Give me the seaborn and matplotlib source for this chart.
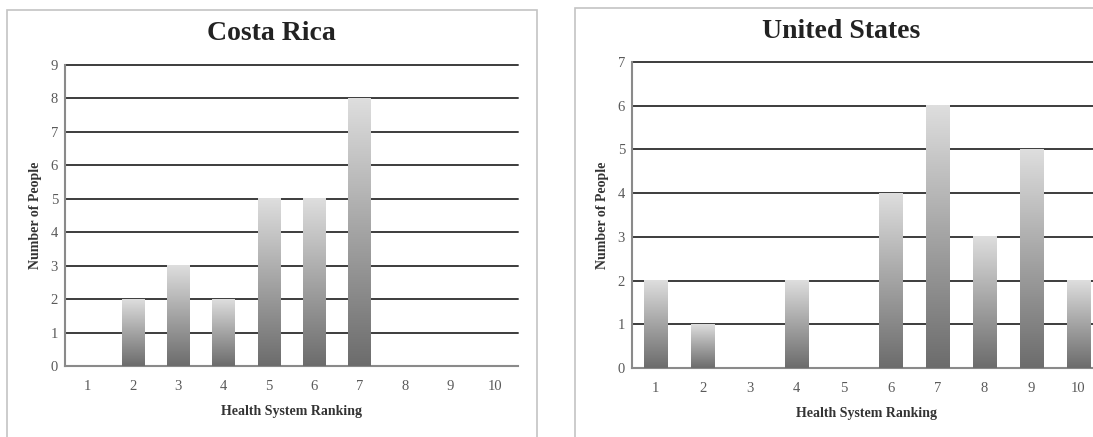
import numpy as np
import pandas as pd
import matplotlib.pyplot as plt
import seaborn as sns
from matplotlib.colors import LinearSegmentedColormap
from matplotlib.patches import Rectangle

# data
rankings = ["1", "2", "3", "4", "5", "6", "7", "8", "9", "10"]
costa_rica = [0, 2, 3, 2, 5, 5, 8, 0, 0, 0]
united_states = [2, 1, 0, 2, 0, 4, 6, 3, 5, 2]

sns.set_style("white")
plt.rcParams['font.family'] = ['Liberation Serif', 'DejaVu Serif']

fig = plt.figure(figsize=(10.93, 4.37), dpi=100)
W, H = 1093, 437

# panel borders
fig.patches.append(Rectangle((7 / W, -0.05), 530 / W, 1 - 10 / H + 0.05,
                             transform=fig.transFigure, fill=False,
                             edgecolor="#c4c4c4", lw=1.2))
fig.patches.append(Rectangle((575 / W, -0.05), 0.6, 1 - 8 / H + 0.05,
                             transform=fig.transFigure, fill=False,
                             edgecolor="#c4c4c4", lw=1.2))

grad_cmap = LinearSegmentedColormap.from_list("bar", ["#6c6c6c", "#a4a4a4", "#dedede"])
gradient = np.linspace(0, 1, 256).reshape(-1, 1)


def draw_panel(rect, values, ymax):
    ax = fig.add_axes(rect)
    df = pd.DataFrame({"rank": rankings, "count": values})
    sns.barplot(data=df, x="rank", y="count", order=rankings, color="#999999",
                width=0.5, ax=ax, zorder=3)
    for p in ax.patches:
        x0, y0 = p.get_x(), p.get_y()
        w, h = p.get_width(), p.get_height()
        p.set_visible(False)
        if h > 0:
            ax.imshow(gradient, extent=[x0, x0 + w, y0, y0 + h], origin="lower",
                      aspect="auto", cmap=grad_cmap, zorder=3, interpolation="bilinear")
    ax.set_xlim(-0.5, len(rankings) - 0.5)
    ax.set_ylim(0, ymax)
    ax.set_yticks(range(ymax + 1))
    ax.yaxis.grid(True, color="#3c3c3c", lw=1.4, zorder=1)
    for gl in ax.get_ygridlines():
        gl.set_clip_on(False)
    ax.set_axisbelow(True)
    for s in ["top", "right"]:
        ax.spines[s].set_visible(False)
    ax.spines["left"].set_color("#8a8a8a")
    ax.spines["bottom"].set_color("#8a8a8a")
    ax.spines["left"].set_linewidth(1.5)
    ax.spines["bottom"].set_linewidth(1.5)
    ax.set_xticks(np.arange(-0.5, len(rankings)), minor=True)
    ax.tick_params(axis="x", which="major", length=0, pad=10, labelsize=10.5, labelcolor="#5a5a5a")
    ax.tick_params(axis="x", which="minor", length=5, width=1.3, color="#6a6a6a", direction="out")
    ax.tick_params(axis="y", length=4, width=1.2, color="#6a6a6a", direction="out",
                   labelsize=10.5, labelcolor="#5a5a5a", pad=1)
    ax.set_xlabel("Health System Ranking", fontsize=10, fontweight="bold", color="#333333", labelpad=9)
    ax.set_ylabel("Number of People", fontsize=10, fontweight="bold", color="#333333", labelpad=6)
    return ax


draw_panel([65 / W, 1 - 366 / H, 453 / W, 301 / H], costa_rica, 9)
draw_panel([632 / W, 1 - 368 / H, 470 / W, 306 / H], united_states, 7)

fig.text(271 / W, 1 - 33 / H, "Costa Rica", ha="center", va="center",
         fontsize=20, fontweight="bold", color="#222222")
fig.text(841 / W, 1 - 31 / H, "United States", ha="center", va="center",
         fontsize=20, fontweight="bold", color="#222222")

plt.savefig("out.png", dpi=100)
